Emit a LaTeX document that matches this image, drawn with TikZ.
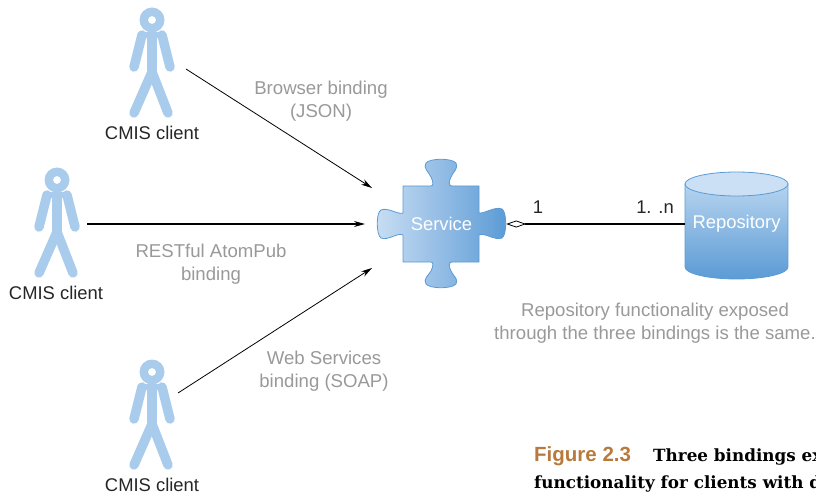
\documentclass[tikz,border=0pt]{standalone}
\usepackage{fontspec}
\setmainfont{Liberation Sans}
\newfontfamily\slabfont{DejaVu Serif}
\usetikzlibrary{arrows.meta,calc}
\definecolor{figblue}{HTML}{A9CCEC}
\definecolor{midblue}{HTML}{93BCE5}
\definecolor{lineblue}{HTML}{5B9BD5}
\definecolor{labelgray}{HTML}{999999}
\definecolor{figorange}{HTML}{B87A3C}
\tikzset{
	label text/.style={text=labelgray, align=center, font=\fontsize{18.6}{23}\selectfont},
	client text/.style={text=black!85, font=\fontsize{18.4}{22}\selectfont},
	white text/.style={text=white, font=\fontsize{18.4}{22}\selectfont},
	binding/.style={-{Stealth[length=11pt,width=6pt]}, line width=0.8pt},
	limb/.style={draw=figblue, line width=9.5pt, line cap=round},
}
\def\clientfigure(#1,#2){
	\draw[limb] (#1-10, #2+15) -- (#1-18, #2+47);
	\draw[limb] (#1+10, #2+15) -- (#1+18, #2+47);
	\draw[limb] (#1, #2+52) -- (#1-18, #2+93);
	\draw[limb] (#1, #2+52) -- (#1+16, #2+93);
	\draw[limb, line cap=butt, line width=10pt] (#1, #2+13) -- (#1, #2+54);
	\fill[figblue] (#1-14, #2+12) rectangle (#1+13, #2+18);
	\fill[figblue, even odd rule] (#1, #2) circle (12.5) (#1, #2) circle (4);
}

\begin{document}
\begin{tikzpicture}[x=1pt, y=-1pt]
	\useasboundingbox (0, 0) rectangle (816, 497);

	%%%%% CLIENTS %%%%%
	\clientfigure(152,20)
	\clientfigure(57,180)
	\clientfigure(152,372)
	\node[client text] (clientA) at (152, 133) {CMIS client};
	\node[client text] (clientB) at (56, 293) {CMIS client};
	\node[client text] (clientC) at (152, 485) {CMIS client};

	%%%%% SERVICE %%%%%
	\draw[draw=lineblue, line width=0.8pt, left color=figblue!65, right color=lineblue, middle color=midblue]
		(403, 186) -- (431, 186)
		.. controls (434, 186) and (433, 181) .. (431, 177)
		.. controls (428, 171) and (423, 168) .. (426, 163)
		.. controls (430, 158) and (452, 158) .. (456, 163)
		.. controls (459, 168) and (453, 172) .. (451, 177)
		.. controls (449, 181) and (448, 186) .. (452, 186)
		-- (479, 186) -- (479, 213)
		.. controls (484, 214) and (495, 206) .. (502, 209)
		.. controls (507, 212) and (507, 235) .. (502, 238)
		.. controls (495, 241) and (484, 232) .. (479, 235)
		-- (479, 262) -- (452, 262)
		.. controls (448, 262) and (449, 267) .. (451, 271)
		.. controls (453, 276) and (459, 279) .. (456, 284)
		.. controls (452, 289) and (430, 289) .. (426, 284)
		.. controls (423, 279) and (428, 276) .. (431, 271)
		.. controls (433, 267) and (434, 262) .. (431, 262)
		-- (403, 262) -- (403, 235)
		.. controls (398, 232) and (388, 241) .. (381, 238)
		.. controls (376, 235) and (376, 212) .. (381, 210)
		.. controls (388, 207) and (398, 215) .. (403, 213)
		-- cycle;
	\node[white text, minimum width=129pt, minimum height=76pt, inner sep=0pt] (service) at (441.5, 224) {Service};

	%%%%% REPOSITORY %%%%%
	\draw[draw=lineblue, line width=0.8pt, top color=figblue!85, bottom color=lineblue]
		(685, 184) -- (685, 267) arc (180:0:51.5 and 12) -- (788, 184) -- cycle;
	\draw[draw=lineblue, line width=0.8pt, fill=figblue!60] (736.5, 184) ellipse (51.5 and 12);
	\node[white text, minimum width=103pt, minimum height=60pt, inner sep=0pt] (repository) at (736.5, 224) {Repository};

	%%%%% CONNECTORS %%%%%
	\coordinate (browserEnd) at (372, 188);
	\coordinate (browserStart) at (186, 69);
	\coordinate (atomStart) at (87, 224);
	\coordinate (atomEnd) at (365, 224);
	\coordinate (soapStart) at (178, 393);
	\coordinate (soapEnd) at (372, 268);
	\draw[binding] (browserStart) -- (browserEnd);
	\draw[binding, line width=1.2pt] (atomStart) -- (atomEnd);
	\draw[binding] (soapStart) -- (soapEnd);
	\draw[line width=1.2pt, {Diamond[open, length=20pt, width=7pt, line width=0.8pt]}-] (service.east) -- (repository.west);

	%%%%% LABELS %%%%%
	\node[label text] (browserLabel) at (321, 101.5) {Browser binding\\(JSON)};
	\node[label text] (atomLabel) at (211, 264) {RESTful AtomPub\\binding};
	\node[label text] (soapLabel) at (324, 371) {Web Services\\binding (SOAP)};
	\node[label text] (sameLabel) at (655, 323.5) {Repository functionality exposed\\through the three bindings is the same.};
	\node[client text] (oneLabel) at (538, 207) {1};
	\node[client text] (manyLabel) at (655, 207) {1. .n};

	%%%%% CAPTION %%%%%
	\node[anchor=base west, inner sep=0pt, text=figorange, font=\fontsize{20.5}{24}\selectfont\bfseries] (figLabel) at (534, 461) {Figure 2.3};
	\node[anchor=base west, inner sep=0pt, font=\fontsize{16.8}{22}\slabfont\bfseries] (captionA) at (653, 461) {Three bindings ex};
	\node[anchor=base west, inner sep=0pt, font=\fontsize{16.8}{22}\slabfont\bfseries] (captionB) at (534, 488) {functionality for clients with d};
\end{tikzpicture}
\end{document}
